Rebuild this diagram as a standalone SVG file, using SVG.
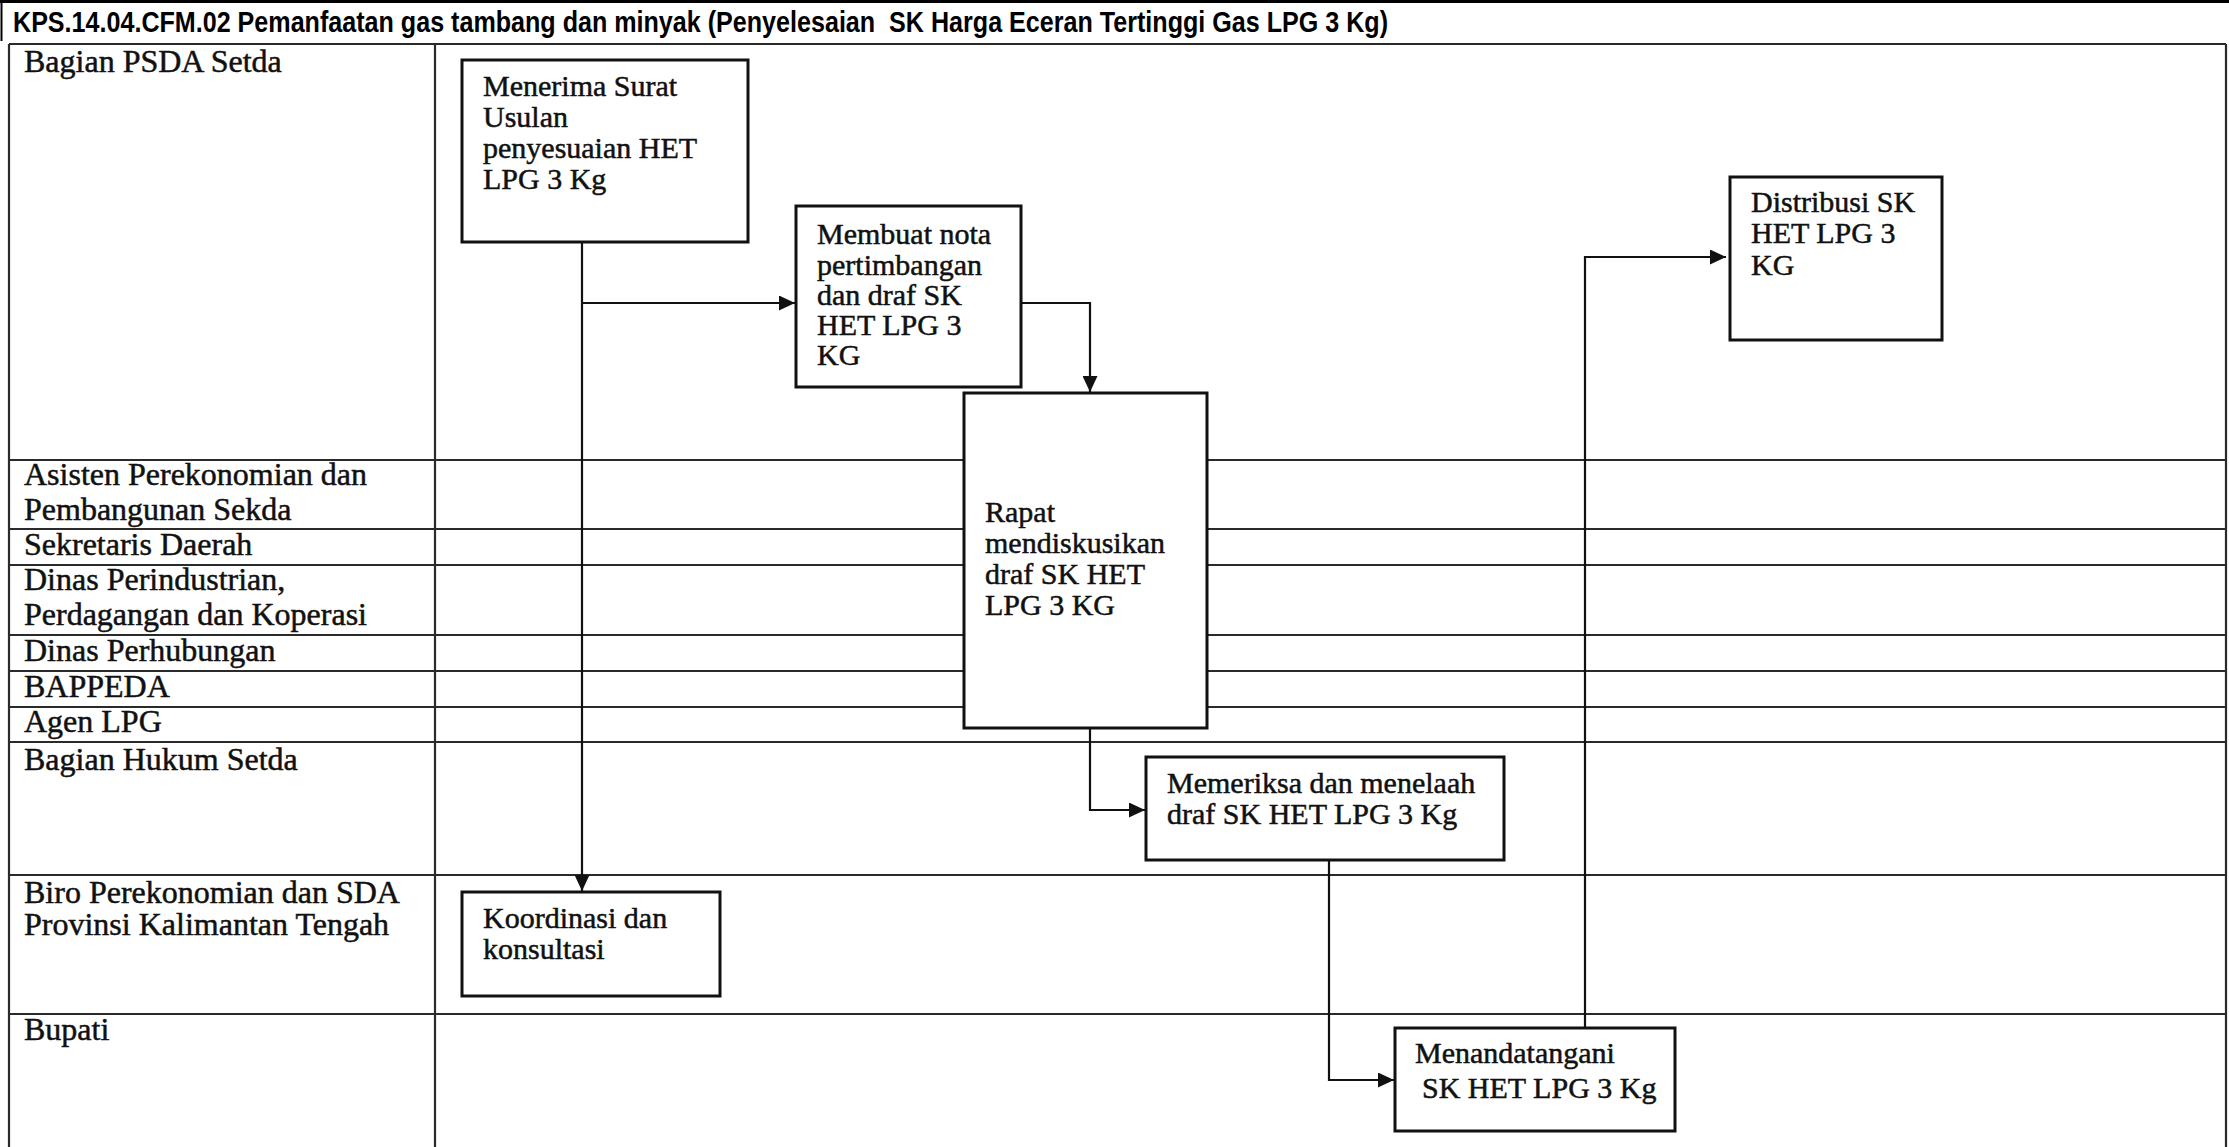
<svg xmlns="http://www.w3.org/2000/svg" width="2229" height="1147" viewBox="0 0 2229 1147">
<style>
.lane{stroke:#2a2a2a;stroke-width:2.2;fill:none}
.lbl{font-family:"Liberation Serif","Times New Roman",serif;font-size:32px;fill:#111;stroke:#111;stroke-width:0.5}
.box{fill:#fff;stroke:#111;stroke-width:3}
.txt{font-family:"Liberation Serif","Times New Roman",serif;font-size:30px;fill:#111;stroke:#111;stroke-width:0.5}
.con{stroke:#111;stroke-width:2.2;fill:none}
.title{font-family:"Liberation Sans",Arial,sans-serif;font-weight:bold;font-size:29px;fill:#000}
</style>
<defs>
<marker id="arr" markerUnits="userSpaceOnUse" markerWidth="17" markerHeight="15" refX="16" refY="7.5" orient="auto">
<path d="M0,0 L16,7.5 L0,15 z" fill="#111"/>
</marker>
</defs>
<rect width="2229" height="1147" fill="#fff"/>
<g id="table">
<line class="lane" x1="9" y1="44" x2="2226" y2="44" stroke-width="3"/>
<line class="lane" x1="9" y1="44" x2="9" y2="1147"/>
<line class="lane" x1="2226" y1="44" x2="2226" y2="1147"/>
<line class="lane" x1="435" y1="44" x2="435" y2="1147"/>
<line class="lane" x1="9" y1="460" x2="2226" y2="460"/>
<line class="lane" x1="9" y1="529" x2="2226" y2="529"/>
<line class="lane" x1="9" y1="565" x2="2226" y2="565"/>
<line class="lane" x1="9" y1="635" x2="2226" y2="635"/>
<line class="lane" x1="9" y1="671" x2="2226" y2="671"/>
<line class="lane" x1="9" y1="707" x2="2226" y2="707"/>
<line class="lane" x1="9" y1="742" x2="2226" y2="742"/>
<line class="lane" x1="9" y1="875" x2="2226" y2="875"/>
<line class="lane" x1="9" y1="1014" x2="2226" y2="1014"/>
</g>
<g id="lanes">
<text class="lbl" x="24" y="72">Bagian PSDA Setda</text>
<text class="lbl" x="24" y="485">Asisten Perekonomian dan</text>
<text class="lbl" x="24" y="520">Pembangunan Sekda</text>
<text class="lbl" x="24" y="555">Sekretaris Daerah</text>
<text class="lbl" x="24" y="590">Dinas Perindustrian,</text>
<text class="lbl" x="24" y="625">Perdagangan dan Koperasi</text>
<text class="lbl" x="24" y="661">Dinas Perhubungan</text>
<text class="lbl" x="24" y="697">BAPPEDA</text>
<text class="lbl" x="24" y="732">Agen LPG</text>
<text class="lbl" x="24" y="770">Bagian Hukum Setda</text>
<text class="lbl" x="24" y="903">Biro Perekonomian dan SDA</text>
<text class="lbl" x="24" y="935">Provinsi Kalimantan Tengah</text>
<text class="lbl" x="24" y="1040">Bupati</text>
</g>
<g id="title">
<rect x="0" y="0" width="2229" height="41" fill="#fff"/>
<line x1="0" y1="1.5" x2="2229" y2="1.5" stroke="#000" stroke-width="3"/>
<line x1="1.5" y1="0" x2="1.5" y2="41" stroke="#000" stroke-width="2"/>
<text class="title" x="13" y="32" textLength="1375" lengthAdjust="spacingAndGlyphs" xml:space="preserve">KPS.14.04.CFM.02 Pemanfaatan gas tambang dan minyak (Penyelesaian  SK Harga Eceran Tertinggi Gas LPG 3 Kg)</text>
</g>
<g id="n1">
<rect class="box" x="462" y="60" width="286" height="182" stroke-width="4"/>
<text class="txt" x="483" y="96">Menerima Surat</text>
<text class="txt" x="483" y="127">Usulan</text>
<text class="txt" x="483" y="158">penyesuaian HET</text>
<text class="txt" x="483" y="189">LPG 3 Kg</text>
</g>
<g id="n2">
<rect class="box" x="796" y="206" width="225" height="181" stroke-width="2.5"/>
<text class="txt" x="817" y="244">Membuat nota</text>
<text class="txt" x="817" y="275">pertimbangan</text>
<text class="txt" x="817" y="305">dan draf SK</text>
<text class="txt" x="817" y="335">HET LPG 3</text>
<text class="txt" x="817" y="365">KG</text>
</g>
<g id="n3">
<rect class="box" x="964" y="393" width="243" height="335"/>
<text class="txt" x="985" y="522">Rapat</text>
<text class="txt" x="985" y="553">mendiskusikan</text>
<text class="txt" x="985" y="584">draf SK HET</text>
<text class="txt" x="985" y="615">LPG 3 KG</text>
</g>
<g id="n4">
<rect class="box" x="1146" y="757" width="358" height="103" stroke-width="2.5"/>
<text class="txt" x="1167" y="793">Memeriksa dan menelaah</text>
<text class="txt" x="1167" y="824">draf SK HET LPG 3 Kg</text>
</g>
<g id="n5">
<rect class="box" x="462" y="892" width="258" height="104"/>
<text class="txt" x="483" y="928">Koordinasi dan</text>
<text class="txt" x="483" y="959">konsultasi</text>
</g>
<g id="n6">
<rect class="box" x="1395" y="1028" width="280" height="103"/>
<text class="txt" x="1415" y="1063">Menandatangani</text>
<text class="txt" x="1422" y="1098">SK HET LPG 3 Kg</text>
</g>
<g id="n7">
<rect class="box" x="1730" y="177" width="212" height="163"/>
<text class="txt" x="1751" y="212">Distribusi SK</text>
<text class="txt" x="1751" y="243">HET LPG 3</text>
<text class="txt" x="1751" y="275">KG</text>
</g>
<g id="connectors">
<polyline class="con" points="582,242 582,891" marker-end="url(#arr)"/>
<polyline class="con" points="582,303 795,303" marker-end="url(#arr)"/>
<polyline class="con" points="1021,303 1090,303 1090,392" marker-end="url(#arr)"/>
<polyline class="con" points="1090,728 1090,810 1145,810" marker-end="url(#arr)"/>
<polyline class="con" points="1329,860 1329,1080 1394,1080" marker-end="url(#arr)"/>
<polyline class="con" points="1585,1028 1585,257 1726,257" marker-end="url(#arr)"/>
</g>
</svg>
